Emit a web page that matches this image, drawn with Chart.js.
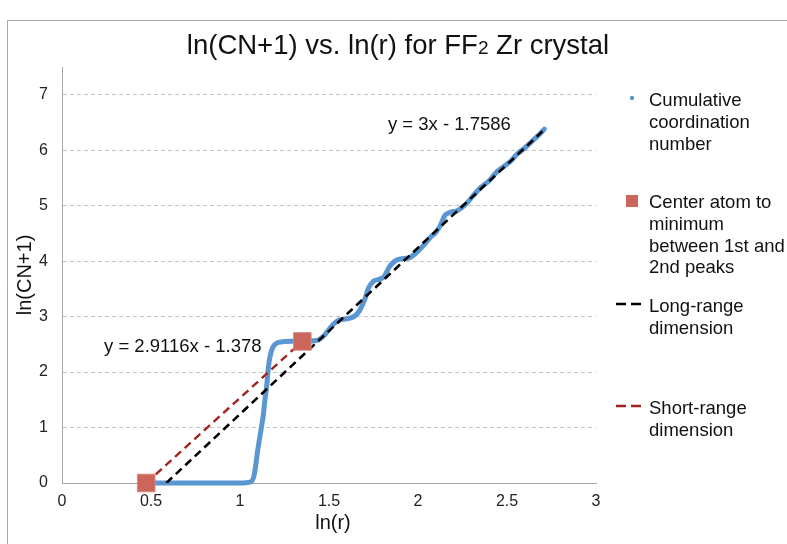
<!DOCTYPE html>
<html>
<head>
<meta charset="utf-8">
<script src="https://cdn.jsdelivr.net/npm/chart.js@4/dist/chart.umd.min.js"></script>
<style>
  html, body { margin: 0; padding: 0; background: #fff; }
  canvas { display: block; }
</style>
</head>
<body>
<canvas id="cnChart" width="787" height="544"></canvas>
<script>
// cumulative coordination number
const lnR = [0.49, 0.6, 0.8, 1.0, 1.06, 1.08, 1.1, 1.12, 1.13, 1.14, 1.15, 1.16, 1.17, 1.185,
  1.21, 1.25, 1.35, 1.43, 1.47, 1.5, 1.53, 1.56, 1.6, 1.64, 1.67, 1.7, 1.72, 1.75, 1.78,
  1.81, 1.84, 1.87, 1.9, 1.95, 1.99, 2.03, 2.07, 2.1, 2.125, 2.15, 2.18, 2.22, 2.27, 2.31,
  2.35, 2.4, 2.44, 2.48, 2.52, 2.56, 2.6, 2.64, 2.68, 2.71];
const lnCN = [0, 0, 0, 0, 0.02, 0.15, 0.6, 1.0, 1.2, 1.5, 1.75, 2.1, 2.3, 2.45,
  2.53, 2.55, 2.56, 2.57, 2.65, 2.77, 2.88, 2.94, 2.96, 3.0, 3.1, 3.3, 3.5, 3.64, 3.67,
  3.72, 3.9, 4.0, 4.04, 4.06, 4.15, 4.28, 4.43, 4.52, 4.64, 4.82, 4.88, 4.91, 5.03, 5.18,
  5.32, 5.45, 5.6, 5.7, 5.8, 5.94, 6.04, 6.16, 6.28, 6.38];

// center atom -> minimum between 1st and 2nd peaks
const centerX = [0.473, 1.35];
const centerY = [0, 2.553];

// fitted lines
const longX = [0.586, 2.71];
const longY = [0, 6.372];
const shortX = [0.473, 1.35];
const shortY = [0, 2.553];

const longEq = "y = 3x - 1.7586";
const shortEq = "y = 2.9116x - 1.378";

const xTicks = [0, 0.5, 1, 1.5, 2, 2.5, 3];
const yTicks = [0, 1, 2, 3, 4, 5, 6, 7];

const legendItems = [
  { kind: "dot", lines: ["Cumulative", "coordination", "number"] },
  { kind: "square", lines: ["Center atom to", "minimum", "between 1st and", "2nd peaks"] },
  { kind: "blackdash", lines: ["Long-range", "dimension"] },
  { kind: "reddash", lines: ["Short-range", "dimension"] },
];

const FONT = "'Liberation Sans', Arial, Helvetica, sans-serif";
const BLUE = "#5a97d2";
const SQUARE = "#cc655c";
const DARKRED = "#a0231d";

const toPts = (xs, ys) => xs.map((x, i) => ({ x: x, y: ys[i] }));

const extras = {
  id: "extras",
  beforeDraw(chart) {
    const c = chart.ctx;
    c.save();
    c.fillStyle = "#fff";
    c.fillRect(0, 0, chart.width, chart.height);
    c.strokeStyle = "#a8a8a8";
    c.lineWidth = 1;
    c.beginPath();
    c.moveTo(7.5, chart.height);
    c.lineTo(7.5, 20.5);
    c.lineTo(chart.width, 20.5);
    c.stroke();
    c.restore();
  },
  afterDraw(chart) {
    const c = chart.ctx;
    const xs = chart.scales.x, ys = chart.scales.y;
    c.save();
    c.fillStyle = "#111";

    // title with small "2"
    const p1 = "ln(CN+1) vs. ln(r) for FF", p2 = "2", p3 = " Zr crystal";
    c.font = "27.5px " + FONT;
    const w1 = c.measureText(p1).width, w3 = c.measureText(p3).width;
    c.font = "19px " + FONT;
    const w2 = c.measureText(p2).width;
    let tx = 398 - (w1 + w2 + w3) / 2;
    const ty = 54;
    c.textBaseline = "alphabetic";
    c.textAlign = "left";
    c.font = "27.5px " + FONT;
    c.fillText(p1, tx, ty);
    c.font = "19px " + FONT;
    c.fillText(p2, tx + w1, ty);
    c.font = "27.5px " + FONT;
    c.fillText(p3, tx + w1 + w2, ty);

    // axis titles
    c.font = "20px " + FONT;
    c.textAlign = "center";
    c.textBaseline = "middle";
    c.fillText("ln(r)", (chart.chartArea.left + chart.chartArea.right) / 2 + 4, 523);
    c.save();
    c.translate(25, 275);
    c.rotate(-Math.PI / 2);
    c.fillText("ln(CN+1)", 0, 0);
    c.restore();

    // regression equations
    c.font = "18.5px " + FONT;
    c.textAlign = "left";
    c.fillText(longEq, xs.getPixelForValue(1.831), ys.getPixelForValue(6.46));
    c.fillText(shortEq, xs.getPixelForValue(0.236), ys.getPixelForValue(2.447));

    // legend
    const tops = [101, 203, 307, 409];
    legendItems.forEach((item, k) => {
      const y0 = tops[k];
      item.lines.forEach((ln, j) => c.fillText(ln, 649, y0 + j * 21.8));
      const my = y0 - 3;
      if (item.kind === "dot") {
        c.fillStyle = BLUE;
        c.beginPath();
        c.arc(632, my, 2.2, 0, Math.PI * 2);
        c.fill();
      } else if (item.kind === "square") {
        c.fillStyle = SQUARE;
        c.fillRect(626, my - 5, 12, 12);
      } else {
        c.strokeStyle = item.kind === "blackdash" ? "#000" : DARKRED;
        c.lineWidth = 2.5;
        c.beginPath();
        c.moveTo(616, my); c.lineTo(626, my);
        c.moveTo(631, my); c.lineTo(641, my);
        c.stroke();
      }
      c.fillStyle = "#111";
    });
    c.restore();
  },
};

new Chart(document.getElementById("cnChart"), {
  type: "scatter",
  data: {
    datasets: [
      {
        label: "Center atom to minimum between 1st and 2nd peaks",
        data: toPts(centerX, centerY),
        pointStyle: "rect",
        pointRadius: 12.5,
        backgroundColor: SQUARE,
        borderColor: "rgba(220,140,130,0.9)",
        borderWidth: 1,
        showLine: false,
        clip: false,
      },
      {
        label: "Long-range dimension",
        data: toPts(longX, longY),
        showLine: true,
        borderColor: "#000",
        borderWidth: 2.6,
        borderDash: [8, 5],
        pointRadius: 0,
      },
      {
        label: "Short-range dimension",
        data: toPts(shortX, shortY),
        showLine: true,
        borderColor: DARKRED,
        borderWidth: 2.4,
        borderDash: [8, 5],
        pointRadius: 0,
      },
      {
        label: "Cumulative coordination number",
        data: toPts(lnR, lnCN),
        showLine: true,
        borderColor: BLUE,
        backgroundColor: BLUE,
        borderWidth: 5,
        borderCapStyle: "round",
        borderJoinStyle: "round",
        pointRadius: 0,
        cubicInterpolationMode: "monotone",
        clip: false,
      },
    ],
  },
  options: {
    responsive: false,
    animation: false,
    devicePixelRatio: 1,
    layout: { padding: { left: 0, top: 67, right: 191, bottom: 0 } },
    plugins: {
      legend: { display: false },
      title: { display: false },
      tooltip: { enabled: false },
    },
    scales: {
      x: {
        type: "linear",
        min: 0,
        max: 3,
        afterFit: (s) => { s.height = 61; },
        afterBuildTicks: (s) => { s.ticks = xTicks.map((v) => ({ value: v })); },
        ticks: {
          padding: 9,
          color: "#222",
          font: { family: FONT, size: 16 },
          callback: (v) => String(v),
        },
        grid: { display: false, drawTicks: false },
        border: { display: true, color: "#a6a6a6", width: 1 },
      },
      y: {
        type: "linear",
        min: 0,
        max: 7.5,
        afterFit: (s) => { s.width = 62; },
        afterBuildTicks: (s) => { s.ticks = yTicks.map((v) => ({ value: v })); },
        ticks: {
          padding: 14,
          color: "#222",
          font: { family: FONT, size: 16 },
          callback: (v) => String(v),
        },
        grid: { color: "#c4c4c4", lineWidth: 1, drawTicks: false },
        border: { display: true, color: "#a6a6a6", width: 1, dash: [4, 3] },
      },
    },
  },
  plugins: [extras],
});
</script>
</body>
</html>
